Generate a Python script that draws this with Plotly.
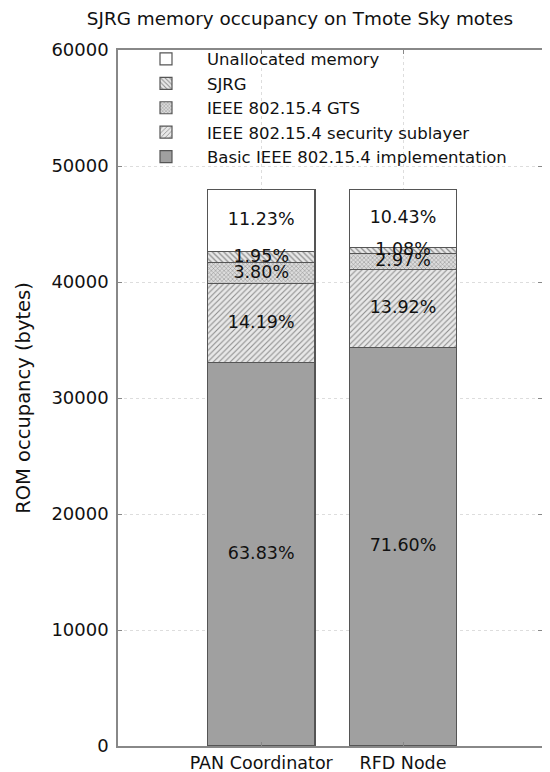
import numpy as np
import plotly.graph_objects as go

# ---- data ----
categories = ["PAN Coordinator", "RFD Node"]
rom_total = [48000, 48000]  # bytes

series_names = [
    "Basic IEEE 802.15.4 implementation",
    "IEEE 802.15.4 security sublayer",
    "IEEE 802.15.4 GTS",
    "SJRG",
    "Unallocated memory",
]
basic_pct = [68.83, 71.60]
security_pct = [14.19, 13.92]
gts_pct = [3.80, 2.97]
sjrg_pct = [1.95, 1.08]
unalloc_pct = [11.23, 10.43]

# labels as printed on the original figure
basic_text = ["63.83%", "71.60%"]
security_text = ["14.19%", "13.92%"]
gts_text = ["3.80%", "2.97%"]
sjrg_text = ["1.95%", "1.08%"]
unalloc_text = ["11.23%", "10.43%"]

y_ticks = [0, 10000, 20000, 30000, 40000, 50000, 60000]

# ---- build ----
pcts = [basic_pct, security_pct, gts_pct, sjrg_pct, unalloc_pct]
texts = [basic_text, security_text, gts_text, sjrg_text, unalloc_text]
total = np.array(rom_total, dtype=float)
values = [np.array(p) / 100.0 * total for p in pcts]

styles = [
    dict(color="#a0a0a0"),
    dict(color="#e6e6e6", pattern=dict(shape="/", fgcolor="#8a8a8a", bgcolor="#e8e8e8", size=4, solidity=0.25, fillmode="replace")),
    dict(color="#d2d2d2", pattern=dict(shape="x", fgcolor="#8a8a8a", bgcolor="#dcdcdc", size=3, solidity=0.3, fillmode="replace")),
    dict(color="#e6e6e6", pattern=dict(shape="\\", fgcolor="#8a8a8a", bgcolor="#e8e8e8", size=4, solidity=0.3, fillmode="replace")),
    dict(color="#ffffff"),
]

font = "DejaVu Sans, Verdana, sans-serif"
fig = go.Figure()
for name, vals, st in zip(series_names, values, styles):
    marker = dict(line=dict(color="#555555", width=1.2))
    marker.update(st)
    fig.add_trace(go.Bar(x=categories, y=vals, name=name, marker=marker, width=0.757))

# percentage labels at segment middles
cum = np.cumsum(np.vstack(values), axis=0)
starts = cum - np.vstack(values)
mids = (cum + starts) / 2.0
for i, txt in enumerate(texts):
    fig.add_trace(go.Scatter(x=categories, y=mids[i], text=txt, mode="text",
                             textfont=dict(size=17.5, color="#111111", family=font),
                             showlegend=False, hoverinfo="skip"))

# page body has an 8px margin, so the figure is drawn 8px in from top-left
fig.update_layout(
    barmode="stack",
    width=542, height=764,
    margin=dict(l=110, r=8, t=42, b=26),
    paper_bgcolor="white", plot_bgcolor="white",
    font=dict(family=font, size=18, color="#111111"),
    title=dict(text="SJRG memory occupancy on Tmote Sky motes", x=292 / 542, xanchor="center",
               xref="container", y=1 - 11 / 764, yref="container", yanchor="middle",
               font=dict(size=18.4)),
    legend=dict(x=0.0165, xanchor="left", y=1.012, yanchor="top", traceorder="reversed",
                bgcolor="rgba(255,255,255,0)", borderwidth=0, font=dict(size=16.5),
                tracegroupgap=0, itemwidth=72),
    showlegend=True,
)
fig.update_xaxes(
    range=[-1.01, 1.98], showline=True, linecolor="#888888", linewidth=1.5, mirror="allticks",
    ticks="inside", ticklen=4, tickcolor="#888888",
    showgrid=True, gridcolor="#dddddd", griddash="dot", gridwidth=1,
    tickfont=dict(size=17.5), automargin=False,
)
fig.update_yaxes(
    range=[0, 60000], tickvals=y_ticks, ticktext=[str(t) for t in y_ticks],
    showline=True, linecolor="#888888", linewidth=1.5, mirror="allticks",
    ticks="inside", ticklen=4, tickcolor="#888888",
    showgrid=True, gridcolor="#dddddd", griddash="dot", gridwidth=1,
    tickfont=dict(size=18), automargin=False, zeroline=False, ticklabelstandoff=4,
    title=dict(text="ROM occupancy (bytes)", font=dict(size=19.5), standoff=16),
)

fig.write_html("out.html")
